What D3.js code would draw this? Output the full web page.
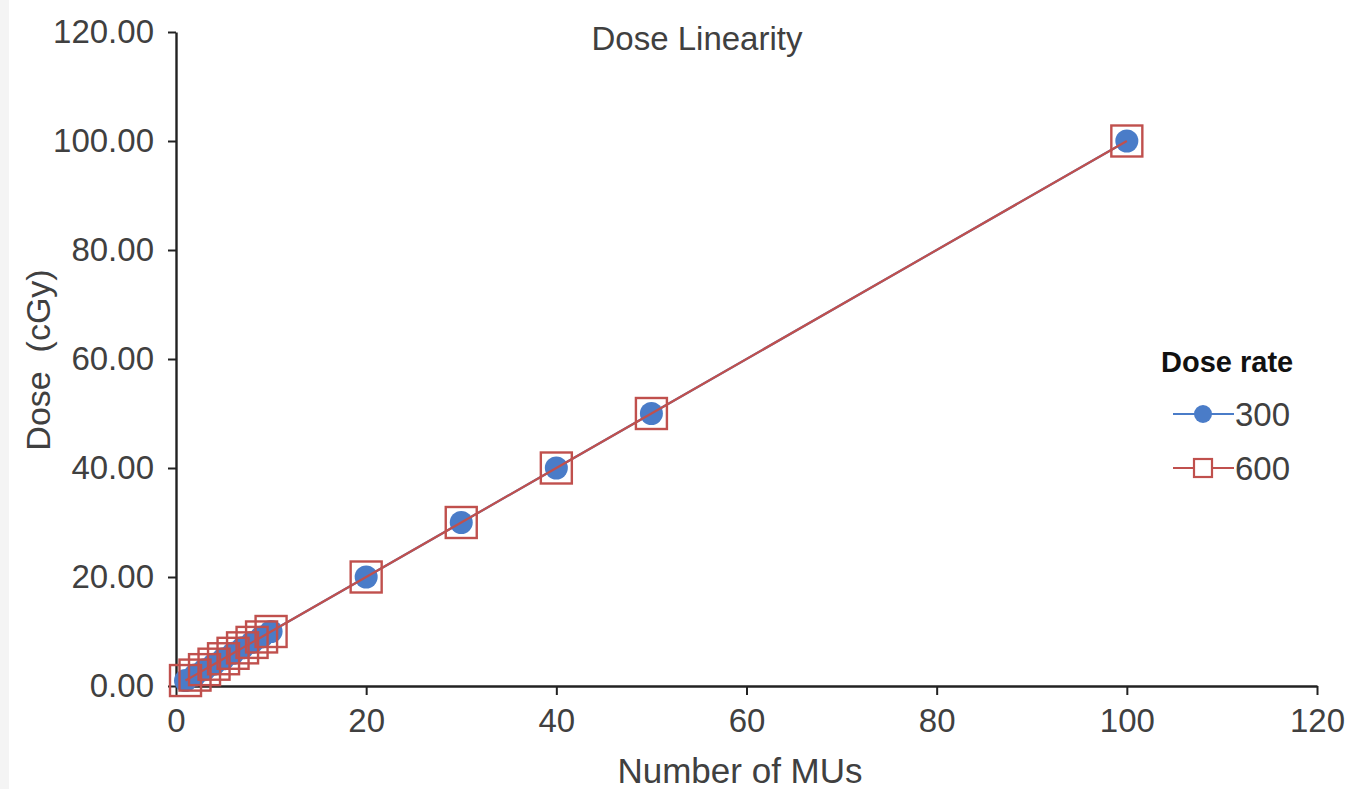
<!DOCTYPE html>
<html><head><meta charset="utf-8">
<script src="https://cdn.jsdelivr.net/npm/d3@7"></script>
<style>
html,body{margin:0;padding:0;background:#fff;}
svg{display:block;font-family:"Liberation Sans",Arial,sans-serif;}
</style></head>
<body>
<svg id="chart" width="1350" height="789"></svg>
<script>
const mus = [1,2,3,4,5,6,7,8,9,10,20,30,40,50,100];
const dose300 = [1.00,2.00,3.00,4.00,5.00,6.00,7.00,8.00,9.00,10.00,20.00,30.00,40.00,50.00,100.00];
const dose600 = [1.00,2.00,3.00,4.00,5.00,6.00,7.00,8.00,9.00,10.00,20.00,30.00,40.00,50.00,100.00];
const seriesNames = ["300","600"];
const xTicks = [0,20,40,60,80,100,120];
const yTicks = [0,20,40,60,80,100,120];
const title = "Dose Linearity";
const xTitle = "Number of MUs";
const yTitle = "Dose  (cGy)";
const legendTitle = "Dose rate";

const svg = d3.select("#chart");
svg.append("rect").attr("x",0).attr("y",0).attr("width",9).attr("height",789).attr("fill","#f4f4f4");

const x = d3.scaleLinear().domain([0,120]).range([176,1317]);
const y = d3.scaleLinear().domain([0,120]).range([686,32]);
const textCol = "#404040";
const blue = "#4a7cc8", red = "#c0504d";

// axes
const xAxis = svg.append("g").attr("transform","translate(0,686)")
  .call(d3.axisBottom(x).tickValues(xTicks).tickSize(9).tickSizeOuter(0).tickPadding(11).tickFormat(d3.format("d")));
const yAxis = svg.append("g").attr("transform","translate(176,0)")
  .call(d3.axisLeft(y).tickValues(yTicks).tickSize(8).tickSizeOuter(0).tickPadding(14).tickFormat(d3.format(".2f")));
[xAxis,yAxis].forEach(g=>{
  g.select(".domain").attr("stroke","#222").attr("stroke-width",2.4);
  g.selectAll(".tick line").attr("stroke","#222").attr("stroke-width",2);
  g.selectAll(".tick text").attr("fill",textCol).style("font-size","33px").style("font-family","'Liberation Sans',Arial,sans-serif");
});
xAxis.selectAll(".tick text").attr("dy","0.8em");

// data points
const pts300 = mus.map((m,i)=>[m,dose300[i]]);
const pts600 = mus.map((m,i)=>[m,dose600[i]]);
const line = d3.line().x(d=>x(d[0])).y(d=>y(d[1]));

// markers: circles, squares, then lines on top
svg.append("path").datum(pts300).attr("d",line).attr("fill","none").attr("stroke",blue).attr("stroke-width",2.2);
svg.append("g").selectAll("circle").data(pts300).join("circle")
  .attr("cx",d=>x(d[0])).attr("cy",d=>y(d[1])).attr("r",11.5).attr("fill",blue);
const sq = 31;
svg.append("g").selectAll("rect").data(pts600).join("rect")
  .attr("x",d=>x(d[0])-sq/2).attr("y",d=>y(d[1])-sq/2).attr("width",sq).attr("height",sq)
  .attr("fill","none").attr("stroke",red).attr("stroke-width",2.4);
svg.append("path").datum(pts600).attr("d",line).attr("fill","none").attr("stroke",red).attr("stroke-width",2.2);

// titles
svg.append("text").attr("x",697).attr("y",50).attr("text-anchor","middle")
  .attr("fill",textCol).style("font-size","33px").text(title);
svg.append("text").attr("x",740).attr("y",783).attr("text-anchor","middle")
  .attr("fill",textCol).style("font-size","35px").text(xTitle);
svg.append("text").attr("transform","translate(50,360) rotate(-90)").attr("text-anchor","middle")
  .attr("fill",textCol).style("font-size","34px").style("white-space","pre").attr("xml:space","preserve").text(yTitle);

// legend
const lg = svg.append("g");
lg.append("text").attr("x",1161).attr("y",372).attr("font-weight","bold").attr("fill","#111")
  .style("font-size","29px").text(legendTitle);
const legItems = [{name:seriesNames[0],col:blue,type:"circle",y:414},{name:seriesNames[1],col:red,type:"square",y:468}];
legItems.forEach(it=>{
  lg.append("line").attr("x1",1173).attr("x2",1234).attr("y1",it.y).attr("y2",it.y).attr("stroke",it.col).attr("stroke-width",2.2);
  if(it.type==="circle") lg.append("circle").attr("cx",1203).attr("cy",it.y).attr("r",9).attr("fill",it.col);
  else lg.append("rect").attr("x",1194).attr("y",it.y-9).attr("width",18).attr("height",18).attr("fill","#fff").attr("stroke",it.col).attr("stroke-width",2.2);
  lg.append("text").attr("x",1235).attr("y",it.y+12).attr("fill",textCol).style("font-size","33px").text(it.name);
});
</script>
</body></html>
